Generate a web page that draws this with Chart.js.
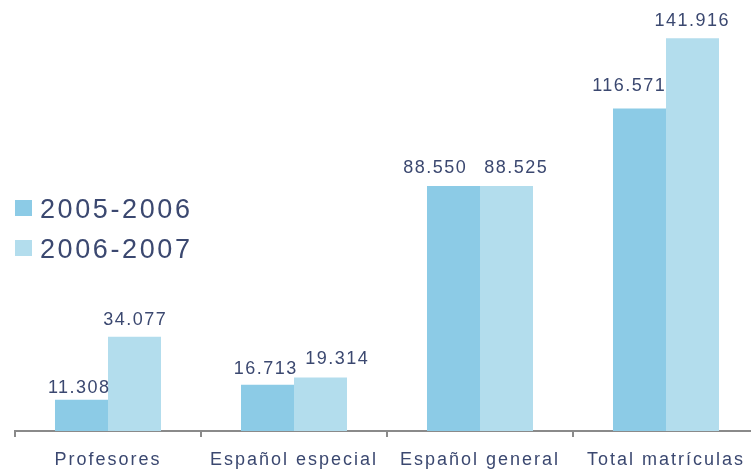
<!DOCTYPE html>
<html>
<head>
<meta charset="utf-8">
<script src="https://cdn.jsdelivr.net/npm/chart.js@4"></script>
<style>
  html, body { margin: 0; padding: 0; background: #fff; overflow: hidden; }
  #wrap { width: 760px; height: 471px; }
</style>
</head>
<body>
<div id="wrap"><canvas id="chart"></canvas></div>
<script>
const categories = ["Profesores", "Español especial", "Español general", "Total matrículas"];
const seriesNames = ["2005-2006", "2006-2007"];
const values2005 = [11308, 16713, 88550, 116571];
const values2006 = [34077, 19314, 88525, 141916];
const colors = ["#8ccbe6", "#b3dded"];
const textColor = "#3b4870";
const fontFamily = '"Liberation Sans", Arial, sans-serif';

// hand placement of the value labels (px), as in the original
const labelDx = [[-3, -2.5, -19, -11], [0, 16, 9, -1]];
const labelGap = [[7, 11, 13, 17], [12, 14, 13, 12]];

const fmt = v => v.toLocaleString("de-DE");

// wider letter spacing like the original (applies to the axis labels too)
const spacing = {
  id: "spacing",
  beforeDraw(chart) { chart.ctx.letterSpacing = "2px"; }
};

// value labels above the bars
const valueLabels = {
  id: "valueLabels",
  afterDatasetsDraw(chart) {
    const ctx = chart.ctx;
    ctx.save();
    ctx.letterSpacing = "1.5px";
    ctx.font = "18px " + fontFamily;
    ctx.fillStyle = textColor;
    ctx.textAlign = "center";
    ctx.textBaseline = "alphabetic";
    chart.data.datasets.forEach((ds, i) => {
      chart.getDatasetMeta(i).data.forEach((bar, j) => {
        ctx.fillText(fmt(ds.data[j]), bar.x + 0.75 + labelDx[i][j], bar.y - labelGap[i][j]);
      });
    });
    ctx.restore();
  }
};

// legend on the left, middle
const sideLegend = {
  id: "sideLegend",
  afterDraw(chart) {
    const ctx = chart.ctx;
    ctx.save();
    ctx.letterSpacing = "2.6px";
    ctx.font = "27px " + fontFamily;
    ctx.textBaseline = "alphabetic";
    ctx.textAlign = "left";
    const rows = [208, 248];
    seriesNames.forEach((name, i) => {
      ctx.fillStyle = colors[i];
      ctx.fillRect(15, rows[i] - 8, 17, 16);
      ctx.fillStyle = textColor;
      ctx.fillText(name, 40, rows[i] + 10);
    });
    ctx.restore();
  }
};

new Chart(document.getElementById("chart"), {
  type: "bar",
  data: {
    labels: categories,
    datasets: [
      { label: seriesNames[0], data: values2005, backgroundColor: colors[0] },
      { label: seriesNames[1], data: values2006, backgroundColor: colors[1] }
    ]
  },
  options: {
    responsive: true,
    maintainAspectRatio: false,
    animation: false,
    layout: { padding: { left: 15, right: 1, top: 16, bottom: 0 } },
    datasets: { bar: { barPercentage: 1, categoryPercentage: 0.57 } },
    plugins: { legend: { display: false }, tooltip: { enabled: false } },
    scales: {
      y: { display: false, min: 0, max: 150000 },
      x: {
        afterFit(scale) { scale.height = 40; },
        grid: { drawOnChartArea: false, tickLength: 6, color: "#8a8a8a", lineWidth: 2 },
        border: { color: "#8a8a8a", width: 2 },
        ticks: {
          color: textColor,
          padding: 12,
          maxRotation: 0,
          font: { family: fontFamily, size: 18 }
        }
      }
    }
  },
  plugins: [spacing, valueLabels, sideLegend]
});
</script>
</body>
</html>
